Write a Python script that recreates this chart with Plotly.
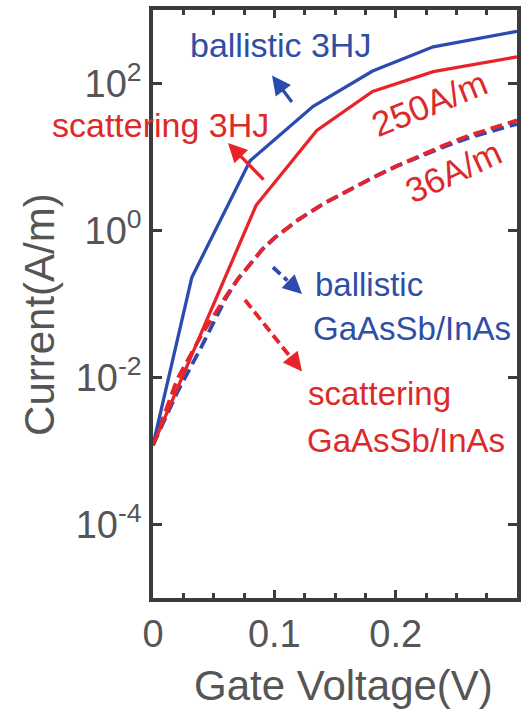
import plotly.graph_objects as go

# ---------------- data ----------------
V_ball_3hj = [0, 0.032, 0.080, 0.132, 0.181, 0.231, 0.300]
I_ball_3hj = [1.2e-3, 0.23, 8.9, 49, 148, 316, 513]

V_scat_3hj = [0, 0.085, 0.135, 0.181, 0.231, 0.300]
I_scat_3hj = [1.2e-3, 2.2, 23, 78, 145, 230]

V_hetero = [0, 0.02, 0.04, 0.05, 0.06, 0.07, 0.08, 0.09, 0.10, 0.12, 0.14,
            0.16, 0.18, 0.20, 0.22, 0.24, 0.26, 0.28, 0.30]
I_ball_gaassb = [1.2e-3, 6.3e-3, 0.0263, 0.056, 0.120, 0.219, 0.355, 0.55, 0.79,
                 1.41, 2.29, 3.47, 5.13, 7.41, 10.2, 13.8, 18.2, 22.9, 28.2]
I_scat_gaassb = [1.2e-3, 9.5e-3, 0.038, 0.071, 0.126, 0.219, 0.355, 0.55, 0.79,
                 1.41, 2.29, 3.47, 5.13, 7.41, 10.5, 14.5, 19.5, 25.1, 31.6]

x_tickvals = [0, 0.1, 0.2]
x_ticktext = ["0", "0.1", "0.2"]
y_tickvals = [1e-4, 1e-2, 1e0, 1e2]
y_ticktext = ["10<sup>-4</sup>", "10<sup>-2</sup>", "10<sup>0</sup>", "10<sup>2</sup>"]

# ---------------- style ----------------
W, H = 531, 715
ML, MR, MT, MB = 153, 14, 6, 117
PW, PH = W - ML - MR, H - MT - MB
BLUE = "#2c4bb0"
RED = "#e8242a"
BLUE_T = "#2f4ea6"
RED_T = "#dc2a2a"
AXC = "#3c3c3c"
TXT = "#555555"
FONT = "Liberation Sans, Arial, sans-serif"


def px(x):
    return (x - ML) / PW


def py(y):
    return (H - MB - y) / PH


fig = go.Figure()
fig.add_trace(go.Scatter(x=V_hetero, y=I_ball_gaassb, mode="lines",
                         line=dict(color=BLUE, width=3.8, dash="12px,6px"),
                         name="ballistic GaAsSb/InAs"))
fig.add_trace(go.Scatter(x=V_hetero, y=I_scat_gaassb, mode="lines",
                         line=dict(color=RED, width=3.8, dash="12px,6px"),
                         name="scattering GaAsSb/InAs"))
fig.add_trace(go.Scatter(x=V_ball_3hj, y=I_ball_3hj, mode="lines",
                         line=dict(color=BLUE, width=3.3), name="ballistic 3HJ"))
fig.add_trace(go.Scatter(x=V_scat_3hj, y=I_scat_3hj, mode="lines",
                         line=dict(color=RED, width=3.3), name="scattering 3HJ"))

annotations = []


def label(text, x, y, color, xanchor="center", angle=0, size=33):
    annotations.append(dict(text=text, x=px(x), y=py(y), xref="paper", yref="paper",
                            xanchor=xanchor, yanchor="middle", showarrow=False,
                            textangle=angle,
                            font=dict(family=FONT, size=size, color=color)))


label("ballistic 3HJ", 280, 41, BLUE_T, size=34)
label("scattering 3HJ", 160, 122, RED_T, size=34)
label("250A/m", 429, 100, RED_T, angle=-22, size=35)
label("36A/m", 453, 169, RED_T, angle=-25, size=35)
label("ballistic", 313, 282, BLUE_T, xanchor="left")
label("GaAsSb/InAs", 311, 327, BLUE_T, xanchor="left")
label("scattering", 306, 392, RED_T, xanchor="left")
label("GaAsSb/InAs", 305, 439, RED_T, xanchor="left")

# axis titles
annotations.append(dict(text="Gate Voltage(V)", x=px(343), y=py(686), xref="paper", yref="paper",
                        xanchor="center", yanchor="middle", showarrow=False,
                        font=dict(family=FONT, size=42, color=TXT)))
annotations.append(dict(text="Current(A/m)", x=px(40), y=py(313), xref="paper", yref="paper",
                        xanchor="center", yanchor="middle", showarrow=False, textangle=-90,
                        font=dict(family=FONT, size=42, color=TXT)))


def arrow(tail, tip, color):
    annotations.append(dict(x=px(tip[0]), y=py(tip[1]), xref="paper", yref="paper",
                            ax=tail[0] - tip[0], ay=tail[1] - tip[1], text="",
                            showarrow=True, arrowhead=2, arrowsize=1.15, arrowwidth=3.3,
                            arrowcolor=color))


shapes = []


def dashed_arrow(tail, tip, color):
    dx, dy = tip[0] - tail[0], tip[1] - tail[1]
    L = (dx * dx + dy * dy) ** 0.5
    ux, uy = dx / L, dy / L
    hx, hy = tip[0] - 20 * ux, tip[1] - 20 * uy
    shapes.append(dict(type="line", xref="paper", yref="paper",
                       x0=px(tail[0]), y0=py(tail[1]), x1=px(hx), y1=py(hy),
                       line=dict(color=color, width=3.8, dash="10px,5px")))
    arrow((hx, hy), tip, color)


arrow((293, 100), (272, 72), BLUE)
arrow((265, 178), (228, 140), RED)
dashed_arrow((273, 265), (302, 292), BLUE)
dashed_arrow((245, 298), (302, 370), RED)

fig.update_layout(
    width=W, height=H,
    margin=dict(l=ML, r=MR, t=MT, b=MB, pad=0),
    paper_bgcolor="white", plot_bgcolor="white",
    showlegend=False,
    annotations=annotations,
    shapes=shapes,
    font=dict(family=FONT, color=TXT),
)
fig.update_xaxes(
    range=[0, 0.3], tickvals=x_tickvals, ticktext=x_ticktext,
    ticks="inside", ticklen=8, tickwidth=2.5, tickcolor=AXC,
    minor=dict(dtick=0.025, tick0=0, ticks="inside", ticklen=5, tickwidth=2.5, tickcolor=AXC),
    showline=True, linewidth=3.5, linecolor=AXC, mirror="ticks",
    showgrid=False, zeroline=False,
    tickfont=dict(family=FONT, size=38, color=TXT),
)
fig.update_yaxes(
    type="log", range=[-5, 3], tickvals=y_tickvals, ticktext=y_ticktext,
    ticks="inside", ticklen=9, tickwidth=2.5, tickcolor=AXC,
    showline=True, linewidth=3.5, linecolor=AXC, mirror="ticks",
    showgrid=False, zeroline=False,
    tickfont=dict(family=FONT, size=38, color=TXT),
)

fig.write_html("out.html", config={"displayModeBar": False},
               post_script="document.body.style.margin='0px';document.body.style.padding='0px';")
